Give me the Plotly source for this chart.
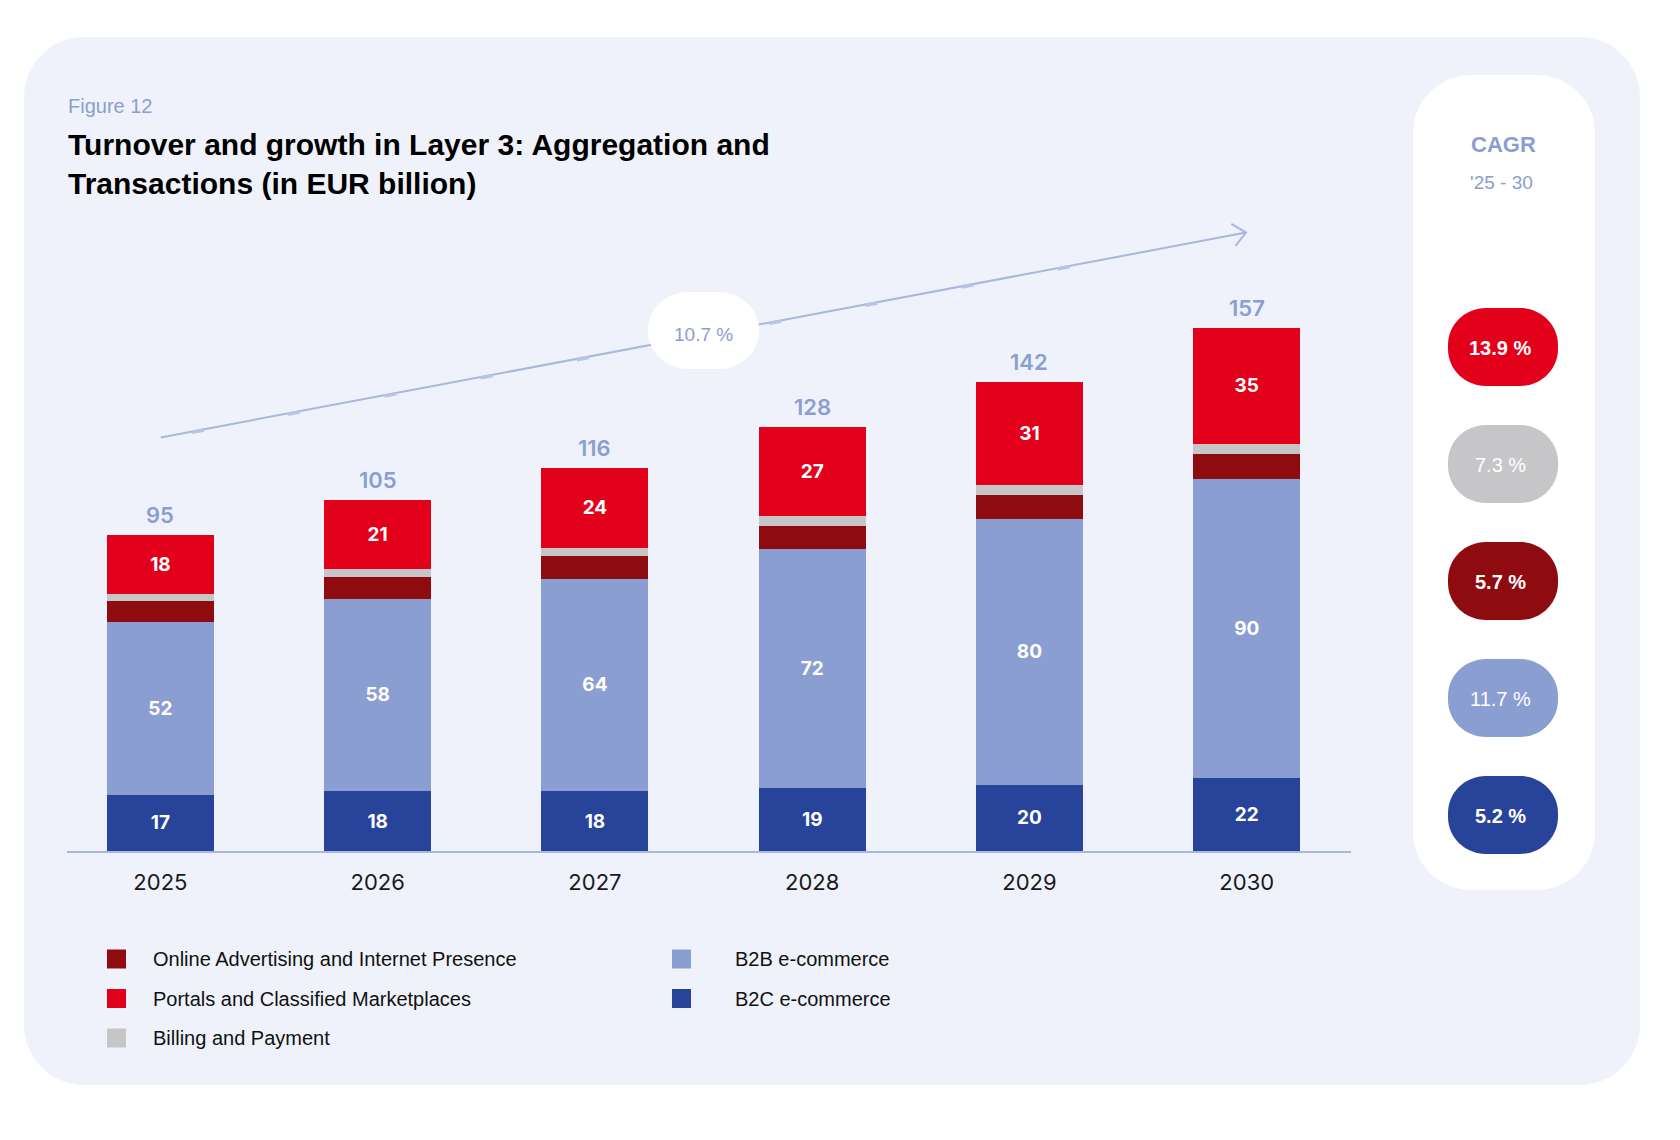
import math

import plotly.graph_objects as go

YEARS = ["2025", "2026", "2027", "2028", "2029", "2030"]
B2C = [17, 18, 18, 19, 20, 22]
B2B = [52, 58, 64, 72, 80, 90]
ONLINE_AD = [6.2, 6.4, 6.7, 7.0, 7.3, 7.5]
BILLING = [2.1, 2.4, 2.6, 2.8, 3.0, 3.1]
PORTALS = [18, 21, 24, 27, 31, 35]
TOTALS = [95, 105, 116, 128, 142, 157]

TOTAL_CAGR = "10.7 %"
CAGR_LABELS = ["13.9 %", "7.3 %", "5.7 %", "11.7 %", "5.2 %"]
CAGR_KEYS = ["portals", "billing", "online", "b2b", "b2c"]

COLORS = {
    "b2c": "#27449a",
    "b2b": "#8b9ed1",
    "online": "#8e0b10",
    "billing": "#c6c6c8",
    "portals": "#e2001a",
}
NAMES = {
    "online": "Online Advertising and Internet Presence",
    "portals": "Portals and Classified Marketplaces",
    "billing": "Billing and Payment",
    "b2b": "B2B e-commerce",
    "b2c": "B2C e-commerce",
}
LEGEND_COLS = [["online", "portals", "billing"], ["b2b", "b2c"]]

# page body has an 8px margin, so the figure is drawn 8px in from the corner
OFF = 8
W, H = 1680 - OFF, 1140 - OFF
PL, PT = 67, 200          # plot area corner in page pixels
PR, PB = 329, 289
PW, PH = W - (PL - OFF) - PR, H - (PT - OFF) - PB
BG = "#eff2fa"
ACCENT = "#8b9ed1"
LINE = "#a9b6de"
NUM_FONT = "Inter, Arial, sans-serif"
TXT_FONT = "Arial, Liberation Sans, sans-serif"
K = 0.5523


def px(x):
    return (x - PL) / PW


def py(y):
    return 1 - (y - PT) / PH


def rrect(x0, y0, x1, y1, rx, ry):
    segs = [
        ("M", [(x0 + rx, y0)]), ("L", [(x1 - rx, y0)]),
        ("C", [(x1 - rx + K * rx, y0), (x1, y0 + ry - K * ry), (x1, y0 + ry)]),
        ("L", [(x1, y1 - ry)]),
        ("C", [(x1, y1 - ry + K * ry), (x1 - rx + K * rx, y1), (x1 - rx, y1)]),
        ("L", [(x0 + rx, y1)]),
        ("C", [(x0 + rx - K * rx, y1), (x0, y1 - ry + K * ry), (x0, y1 - ry)]),
        ("L", [(x0, y0 + ry)]),
        ("C", [(x0, y0 + ry - K * ry), (x0 + rx - K * rx, y0), (x0 + rx, y0)]),
    ]
    out = ""
    for cmd, coords in segs:
        out += cmd + " ".join(f"{px(a):.5f},{py(b):.5f}" for a, b in coords) + " "
    return out + "Z"


def text(fig, x, y, s, size, color, family=TXT_FONT, weight="normal", xanchor="center"):
    fig.add_annotation(
        x=px(x), y=py(y), xref="paper", yref="paper", text=s, showarrow=False,
        xanchor=xanchor, yanchor="middle",
        font={"size": size, "color": color, "family": family, "weight": weight},
    )


fig = go.Figure()

series = [("b2c", B2C, True), ("b2b", B2B, True), ("online", ONLINE_AD, False),
          ("billing", BILLING, False), ("portals", PORTALS, True)]
for key, vals, labelled in series:
    fig.add_trace(go.Bar(
        x=YEARS, y=vals, name=NAMES[key],
        marker={"color": COLORS[key], "line": {"width": 0}},
        text=[str(v) for v in vals] if labelled else None,
        textposition="inside" if labelled else "none",
        insidetextanchor="middle", textangle=0,
        textfont={"size": 19, "color": "white", "family": NUM_FONT, "weight": 700},
        hoverinfo="skip",
    ))

tops = [sum(v) for v in zip(B2C, B2B, ONLINE_AD, BILLING, PORTALS)]
for i, (top, tot) in enumerate(zip(tops, TOTALS)):
    fig.add_annotation(
        x=i, y=top, xref="x", yref="y", text=str(tot), showarrow=False, yanchor="bottom", yshift=5,
        font={"size": 22, "color": ACCENT, "family": NUM_FONT, "weight": 600},
    )

# background panels
fig.add_shape(type="path", path=rrect(24, 37, 1640, 1085, 60, 60), xref="paper", yref="paper",
              fillcolor=BG, line={"width": 0}, layer="below")
fig.add_shape(type="path", path=rrect(1413, 75, 1595, 890, 58, 58), xref="paper", yref="paper",
              fillcolor="white", line={"width": 0}, layer="below")

# trend arrow
x0, y0, x1, y1 = 160.8, 437.4, 1246.0, 232.6
fig.add_shape(type="line", x0=px(x0), y0=py(y0), x1=px(x1), y1=py(y1), xref="paper", yref="paper",
              line={"color": LINE, "width": 2})
slope = (y1 - y0) / (x1 - x0)
for k in range(10):
    tx = 198 + 96.2 * k
    ty = y0 + slope * (tx - x0)
    fig.add_shape(type="line", xref="paper", yref="paper", line={"color": "#b8c3e6", "width": 3.5},
                  x0=px(tx - 6), y0=py(ty - 6 * slope + 0.8), x1=px(tx + 6), y1=py(ty + 6 * slope + 0.8))
ang = math.atan2(y0 - y1, x0 - x1)
arms = [(x1 + 17 * math.cos(ang + d), y1 + 17 * math.sin(ang + d)) for d in (0.72, -0.72)]
fig.add_shape(
    type="path", xref="paper", yref="paper", line={"color": LINE, "width": 2},
    path=f"M{px(arms[0][0])},{py(arms[0][1])} L{px(x1)},{py(y1)} L{px(arms[1][0])},{py(arms[1][1])}",
)
fig.add_shape(type="path", path=rrect(648, 292, 759, 369, 40, 38), xref="paper", yref="paper",
              fillcolor="white", line={"width": 0})
text(fig, 703.5, 334, TOTAL_CAGR, 19, ACCENT)

# CAGR column
text(fig, 1503, 145, "<b>CAGR</b>", 22, ACCENT)
text(fig, 1501, 183, "'25 - 30", 19, ACCENT)
for i, (key, lab) in enumerate(zip(CAGR_KEYS, CAGR_LABELS)):
    cy = 347 + i * 117
    fig.add_shape(type="path", path=rrect(1448, cy - 39, 1558, cy + 39, 38, 37), xref="paper",
                  yref="paper", fillcolor=COLORS[key], line={"width": 0})
    bold = key in ("portals", "online", "b2c")
    text(fig, 1500, cy + 1, f"<b>{lab}</b>" if bold else lab, 20, "white")

# custom legend
for col, x_mark, x_text in zip(LEGEND_COLS, (107, 672), (151, 733)):
    for j, key in enumerate(col):
        cy = 959 + j * 39.5
        fig.add_shape(type="rect", xref="paper", yref="paper", x0=px(x_mark), x1=px(x_mark + 19),
                      y0=py(cy - 9.5), y1=py(cy + 9.5), fillcolor=COLORS[key], line={"width": 0})
        text(fig, x_text, cy, NAMES[key], 20, "#111111", xanchor="left")

# headings
text(fig, 66, 106, "Figure 12", 20, ACCENT, xanchor="left")
fig.add_annotation(
    x=px(66), y=py(164), xref="paper", yref="paper", showarrow=False, xanchor="left", yanchor="middle",
    align="left", text="<b>Turnover and growth in Layer 3: Aggregation and<br>Transactions (in EUR billion)</b>",
    font={"size": 30, "color": "#000000", "family": TXT_FONT},
)

fig.update_layout(
    width=W, height=H,
    margin={"l": PL - OFF, "r": PR, "t": PT - OFF, "b": PB},
    paper_bgcolor="white", plot_bgcolor="rgba(0,0,0,0)",
    barmode="stack", bargap=0.5075, showlegend=False,
    xaxis={
        "type": "category", "range": [-0.43, 5.48], "showline": True, "linecolor": LINE,
        "linewidth": 2, "showgrid": False, "zeroline": False, "ticks": "",
        "tickfont": {"size": 22, "color": "#1a1a1a", "family": NUM_FONT},
        "ticklabelstandoff": 11,
    },
    yaxis={"range": [0, PH / 3.321], "visible": False},
)

fig.write_html("out.html")
